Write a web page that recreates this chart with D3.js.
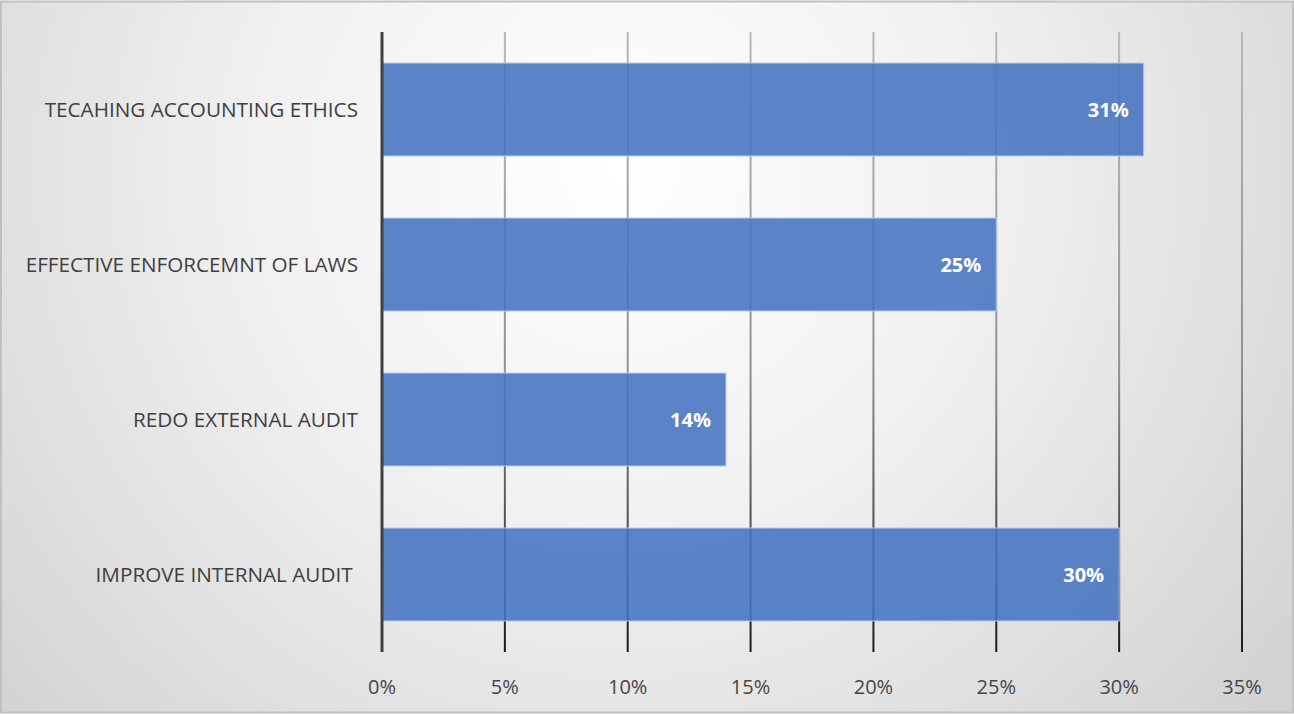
<!DOCTYPE html>
<html>
<head>
<meta charset="utf-8">
<script src="https://cdn.jsdelivr.net/npm/d3@7"></script>
<style>
	html, body { margin: 0; padding: 0; background: #fff; }
	svg { display: block; }
	text { font-family: "Open Sans", "Noto Sans", sans-serif; }
</style>
</head>
<body>
<div id="chart"></div>
<script>
const categories = ["TECAHING ACCOUNTING ETHICS", "EFFECTIVE ENFORCEMNT OF LAWS", "REDO EXTERNAL AUDIT", "IMPROVE INTERNAL AUDIT "];
const values = [31, 25, 14, 30];
const tickValues = [0, 5, 10, 15, 20, 25, 30, 35];

const width = 1294;
const height = 714;
const plotLeft = 382;
const plotRight = 1242;
const plotTop = 32;
const plotBottom = 652;

const svg = d3
	.select("#chart")
	.append("svg")
	.attr("width", width)
	.attr("height", height);

const defs = svg.append("defs");
const bg = defs
	.append("radialGradient")
	.attr("id", "bgGrad")
	.attr("gradientUnits", "userSpaceOnUse")
	.attr("cx", 620)
	.attr("cy", 170)
	.attr("r", 840);
bg.append("stop").attr("offset", "0%").attr("stop-color", "#ffffff");
bg.append("stop").attr("offset", "45%").attr("stop-color", "#f0f0f0");
bg.append("stop").attr("offset", "100%").attr("stop-color", "#d2d2d2");

const gridGrad = defs
	.append("linearGradient")
	.attr("id", "gridGrad")
	.attr("gradientUnits", "userSpaceOnUse")
	.attr("x1", 0)
	.attr("y1", plotTop)
	.attr("x2", 0)
	.attr("y2", plotBottom);
gridGrad.append("stop").attr("offset", "0%").attr("stop-color", "#b8b8b8");
gridGrad.append("stop").attr("offset", "55%").attr("stop-color", "#909090");
gridGrad.append("stop").attr("offset", "100%").attr("stop-color", "#1a1a1a");

svg.append("rect")
	.attr("x", 1)
	.attr("y", 1.5)
	.attr("width", width - 2)
	.attr("height", height - 3)
	.attr("fill", "url(#bgGrad)")
	.attr("stroke", "#c0c0c0")
	.attr("stroke-width", 2);

const x = d3.scaleLinear().domain([0, 35]).range([plotLeft, plotRight]);
const y = d3
	.scaleBand()
	.domain(categories)
	.range([plotTop, plotBottom])
	.paddingInner(0.4)
	.paddingOuter(0.2);

// vertical gridlines
svg.append("g")
	.selectAll("line")
	.data(tickValues.filter((d) => d > 0))
	.enter()
	.append("line")
	.attr("x1", (d) => x(d))
	.attr("x2", (d) => x(d))
	.attr("y1", plotTop)
	.attr("y2", plotBottom)
	.attr("stroke", "url(#gridGrad)")
	.attr("stroke-width", 2);

// bars
svg.append("g")
	.selectAll("rect")
	.data(values)
	.enter()
	.append("rect")
	.attr("x", x(0))
	.attr("y", (d, i) => y(categories[i]))
	.attr("width", (d) => x(d) - x(0))
	.attr("height", y.bandwidth())
	.attr("fill", "#4674c2")
	.attr("fill-opacity", 0.88)
	.attr("stroke", "#b9cbea")
	.attr("stroke-width", 1);

// value labels
svg.append("g")
	.selectAll("text")
	.data(values)
	.enter()
	.append("text")
	.attr("x", (d) => x(d) - 15)
	.attr("y", (d, i) => y(categories[i]) + y.bandwidth() / 2)
	.attr("dy", "0.36em")
	.attr("text-anchor", "end")
	.attr("fill", "#ffffff")
	.attr("font-weight", "bold")
	.attr("font-size", 20)
	.text((d) => d + "%");

// category axis line
svg.append("line")
	.attr("x1", x(0))
	.attr("x2", x(0))
	.attr("y1", plotTop)
	.attr("y2", plotBottom)
	.attr("stroke", "#404040")
	.attr("stroke-width", 3);

// category labels
svg.append("g")
	.selectAll("text")
	.data(categories)
	.enter()
	.append("text")
	.attr("x", plotLeft - 24)
	.attr("y", (d) => y(d) + y.bandwidth() / 2)
	.attr("dy", "0.36em")
	.attr("text-anchor", "end")
	.attr("fill", "#404040")
	.attr("font-size", 20.7)
	.attr("xml:space", "preserve")
	.style("white-space", "pre")
	.text((d) => d);

// value axis labels
svg.append("g")
	.selectAll("text")
	.data(tickValues)
	.enter()
	.append("text")
	.attr("x", (d) => x(d))
	.attr("y", 687)
	.attr("dy", "0.36em")
	.attr("text-anchor", "middle")
	.attr("fill", "#464646")
	.attr("font-size", 20)
	.text((d) => d + "%");
</script>
</body>
</html>
